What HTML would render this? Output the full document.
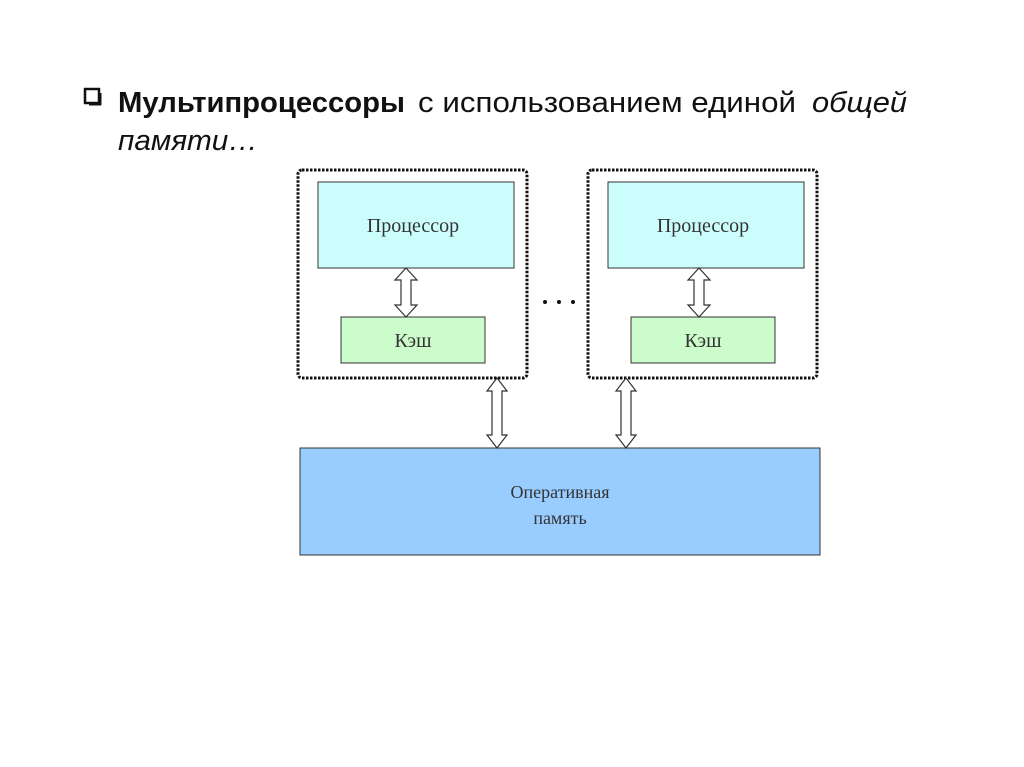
<!DOCTYPE html>
<html><head><meta charset="utf-8"><style>
html,body{margin:0;padding:0;background:#fff;width:1024px;height:767px;overflow:hidden}
</style></head><body>
<svg width="1024" height="767" xmlns="http://www.w3.org/2000/svg">
<rect x="85" y="89" width="14" height="14" fill="none" stroke="#111" stroke-width="2.5"/>
<rect x="89" y="103" width="12" height="2.5" fill="#111"/>
<rect x="99" y="93" width="2.5" height="12" fill="#111"/>
<g font-family="Liberation Sans, sans-serif" font-size="29" fill="#111">
<text x="118" y="112" font-weight="bold" textLength="287" lengthAdjust="spacingAndGlyphs">Мультипроцессоры</text>
<text x="418" y="112" textLength="378" lengthAdjust="spacingAndGlyphs">с использованием единой</text>
<text x="812" y="112" font-style="italic" textLength="95" lengthAdjust="spacingAndGlyphs">общей</text>
<text x="118" y="150" font-style="italic" textLength="140" lengthAdjust="spacingAndGlyphs">памяти…</text>
</g>
<g font-family="Liberation Serif, serif" font-size="20" fill="#333" text-anchor="middle">
<rect x="298" y="170" width="229" height="208" rx="4" fill="none" stroke="#111" stroke-width="3" stroke-dasharray="2.5 1.5"/>
<rect x="318" y="182" width="196" height="86" fill="#ccfdfd" stroke="#333" stroke-width="1"/>
<text x="413" y="232">Процессор</text>
<rect x="341" y="317" width="144" height="46" fill="#ccfccc" stroke="#333" stroke-width="1"/>
<text x="413" y="347">Кэш</text>
<rect x="588" y="170" width="229" height="208" rx="4" fill="none" stroke="#111" stroke-width="3" stroke-dasharray="2.5 1.5"/>
<rect x="608" y="182" width="196" height="86" fill="#ccfdfd" stroke="#333" stroke-width="1"/>
<text x="703" y="232">Процессор</text>
<rect x="631" y="317" width="144" height="46" fill="#ccfccc" stroke="#333" stroke-width="1"/>
<text x="703" y="347">Кэш</text>
<rect x="300" y="448" width="520" height="107" fill="#99ccff" stroke="#333" stroke-width="1"/>
<text x="560" y="498" font-size="18">Оперативная</text>
<text x="560" y="524" font-size="18">память</text>
</g>
<g fill="#111"><circle cx="545" cy="302" r="2"/><circle cx="559" cy="302" r="2"/><circle cx="573" cy="302" r="2"/></g>
<g fill="#fff" stroke="#333" stroke-width="1.2">
<path d="M406,268 L417,280 L411,280 L411,305 L417,305 L406,317 L395,305 L401,305 L401,280 L395,280 Z"/>
<path d="M699,268 L710,280 L704,280 L704,305 L710,305 L699,317 L688,305 L694,305 L694,280 L688,280 Z"/>
<path d="M497,378 L507,391 L502,391 L502,435 L507,435 L497,448 L487,435 L492,435 L492,391 L487,391 Z"/>
<path d="M626,378 L636,391 L631,391 L631,435 L636,435 L626,448 L616,435 L621,435 L621,391 L616,391 Z"/>
</g>
</svg>
</body></html>
